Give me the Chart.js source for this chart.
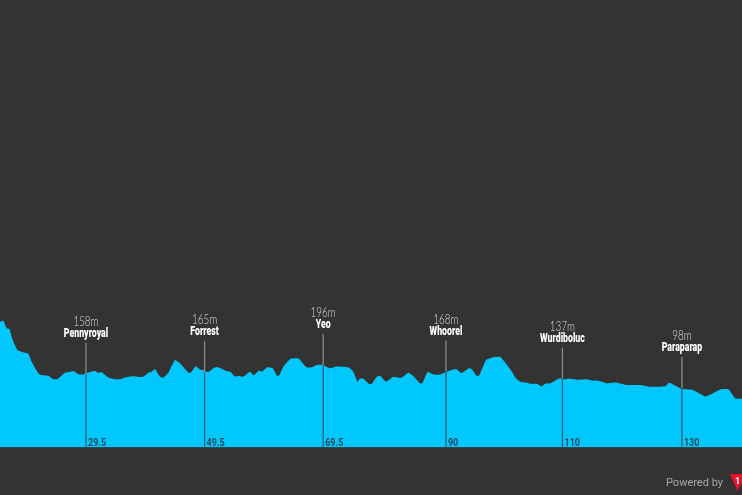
<!DOCTYPE html>
<html><head><meta charset="utf-8">
<style>html,body{margin:0;padding:0;background:#333333;overflow:hidden}#w{position:absolute;left:0;top:0;width:742px;height:495px}</style>
<script src="https://cdn.jsdelivr.net/npm/chart.js@4"></script>
</head><body><div id="w"><canvas id="c"></canvas></div>
<script>
const distanceKm=[15,15.56,16.12,16.57,17.14,17.92,18.65,19.78,20.34,21.18,21.75,23.15,23.99,24.67,25.96,26.8,27.37,28.21,29.05,30.18,31.02,31.58,32.14,33.27,34.39,35.24,36.08,37.48,38.33,39.17,40.01,40.58,41.14,41.98,42.54,43.39,44.51,45.35,46.76,47.15,48.05,48.73,49.4,50.13,50.98,51.54,52.38,53.22,53.9,54.63,55.19,56.03,57.16,57.72,58.73,59.18,60.08,60.98,61.77,62.11,62.78,64.02,65.31,66.72,67.56,68.4,69.41,70.65,71.77,73.74,74.59,75.26,75.71,76.27,77.28,77.68,78.63,79.19,80.09,81.33,82.74,83.86,84.7,85.83,86.28,87.12,88.08,89.2,90.32,91.45,92.01,92.85,94.15,94.71,95.38,95.83,96.96,97.97,99.38,100.5,101.34,101.92,102.75,103.87,104.43,105.56,106.29,106.96,107.81,109.21,110.06,111.18,112.58,113.99,114.83,115.96,117.36,119.05,120.74,122.98,124.39,126.08,127.2,127.87,130,131.98,133.95,135.07,136.48,137.88,139,140.13];
const elevationM=[380,384,352,349,302,260,252,243,210,172,155,150,135,136,163,166,170,157,156,166,170,162,165,143,135,135,143,148,145,146,163,167,179,146,142,163,217,203,163,163,191,177,174,165,182,187,180,170,166,146,149,146,167,152,173,167,186,182,149,153,189,223,224,186,186,196,196,182,190,186,167,126,138,138,115,115,148,148,125,145,142,163,149,118,121,166,156,155,167,177,177,162,183,174,149,152,217,227,230,196,167,142,125,121,116,116,105,116,118,138,135,138,133,135,130,129,118,121,111,111,104,104,106,121,95,89,62,74,92,92,54,52];
const placeNames=["Pennyroyal","Forrest","Yeo","Whoorel","Wurdiboluc","Paraparap"];
const placeKm=[29.5,49.5,69.5,90.2,109.85,130];
const placeElevation=[158,165,196,168,137,98];
const placeKmLabels=["29.5","49.5","69.5","90","110","130"];
const poweredByText="Powered by";
const logoText="1";

const SCALE_MIN=-155, SCALE_MAX=1749, STEM_M=132;
const stemLower=placeKm.map((k,i)=>({label:placeNames[i]+" stem",data:[{x:k,y:SCALE_MIN},{x:k,y:placeElevation[i]}],borderColor:"#2f5a73",borderWidth:1.3,pointRadius:0,fill:false,parsing:false,order:0}));
const stemUpper=placeKm.map((k,i)=>({label:placeNames[i]+" stem top",data:[{x:k,y:placeElevation[i]},{x:k,y:placeElevation[i]+STEM_M}],borderColor:"#8a8a8a",borderWidth:1.3,pointRadius:0,fill:false,parsing:false,order:0}));

function narrow(ctx,text,px,py,sx,align){
  ctx.save();ctx.translate(px,py);ctx.scale(sx,1);ctx.textAlign=align;ctx.fillText(text,0,0);ctx.restore();
}
const labels={id:"labels",afterDatasetsDraw(ch){
  const {ctx,scales:{x,y}}=ch;
  ctx.save();ctx.textBaseline="alphabetic";
  placeNames.forEach((n,i)=>{
    const px=x.getPixelForValue(placeKm[i]);
    const py=y.getPixelForValue(placeElevation[i]+STEM_M);
    ctx.fillStyle="#dedede";
    ctx.font="300 13px Lato";
    narrow(ctx,placeElevation[i]+"m",px,py-17,0.76,"center");
    ctx.fillStyle="#ffffff";
    ctx.font="900 12.5px Roboto";
    narrow(ctx,n,px,py-6,0.7,"center");
    ctx.fillStyle="#24495f";
    ctx.font="bold 10.5px Roboto";
    narrow(ctx,placeKmLabels[i],px+2,y.getPixelForValue(SCALE_MIN)-2,0.86,"left");
  });
  ctx.textAlign="left";ctx.fillStyle="#a8a8a8";ctx.font="11px Roboto";
  ctx.fillText(poweredByText,666,485.5);
  ctx.beginPath();ctx.moveTo(730,474);ctx.lineTo(746,474);ctx.lineTo(737.5,491);ctx.closePath();
  ctx.fillStyle="#e8122d";ctx.fill();
  ctx.fillStyle="#ffffff";ctx.font="bold 9px Roboto";ctx.textAlign="center";
  ctx.fillText(logoText,737.5,484);
  ctx.restore();
}};
new Chart(document.getElementById("c"),{
  type:"line",
  data:{datasets:[
    {label:"Elevation",data:distanceKm.map((k,i)=>({x:k,y:elevationM[i]})),parsing:false,borderWidth:0,backgroundColor:"#00c8ff",fill:"start",pointRadius:0,tension:0.15,order:1},
    ...stemLower,...stemUpper
  ]},
  options:{responsive:true,maintainAspectRatio:false,animation:false,
    layout:{padding:{left:0,right:0,top:0,bottom:47.5}},
    plugins:{legend:{display:false},tooltip:{enabled:false}},
    scales:{
      x:{type:"linear",min:15,max:140.13,display:false},
      y:{type:"linear",min:SCALE_MIN,max:SCALE_MAX,display:false}
    }},
  plugins:[labels]
});
</script></body></html>
